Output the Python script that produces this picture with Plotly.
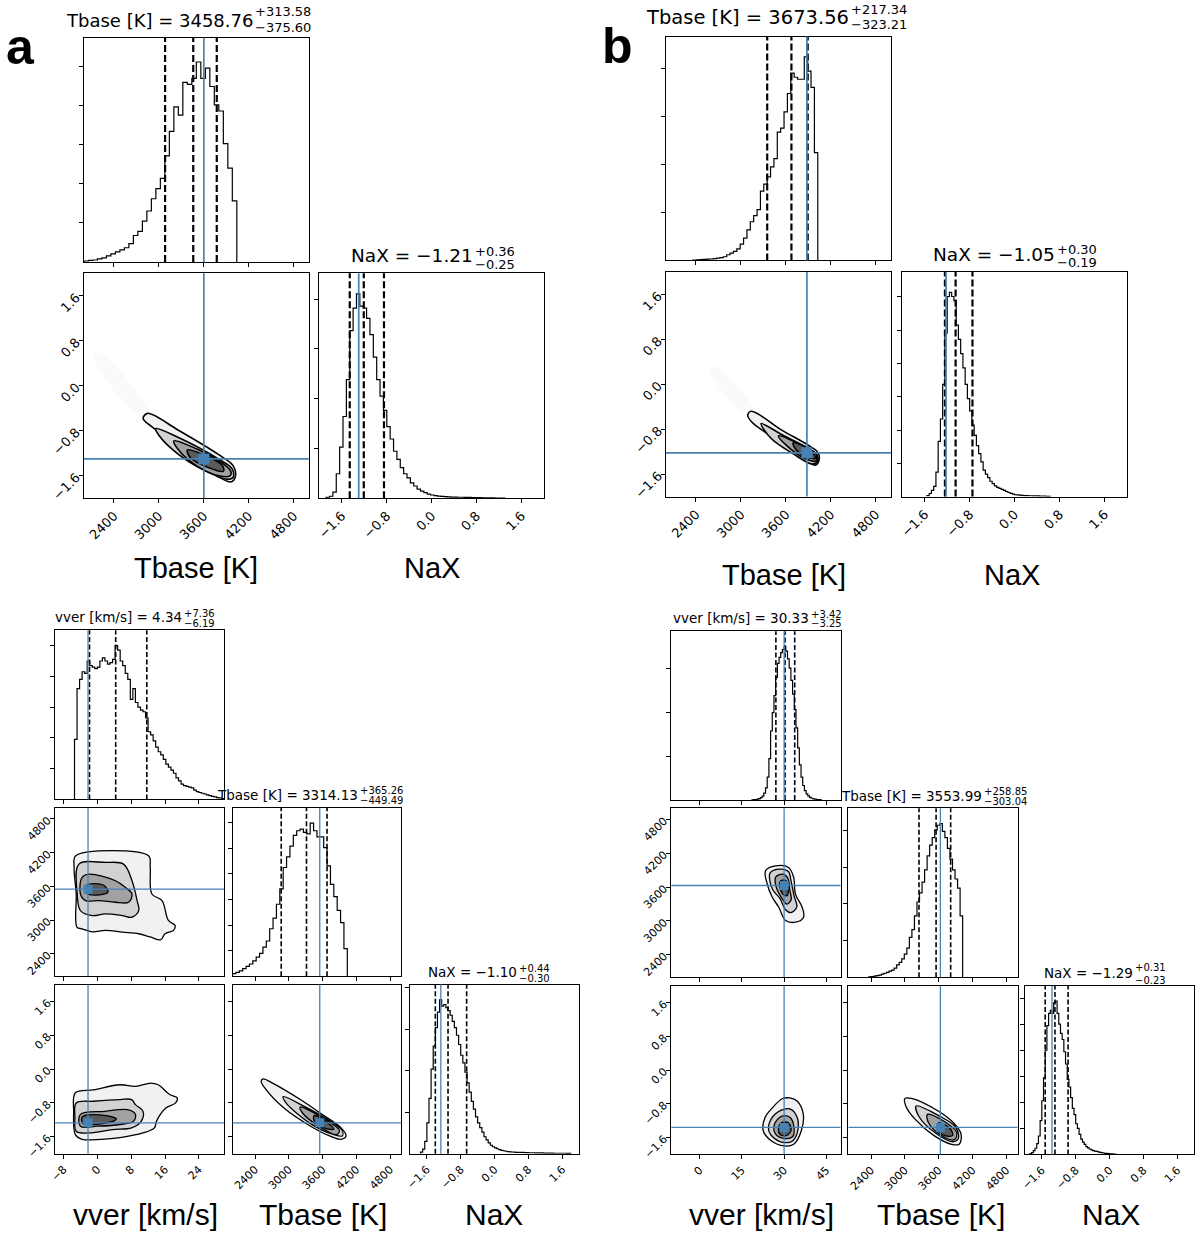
import plotly.graph_objects as go

# ---------------- values ----------------
TBASE_RANGE = [2000, 5000]
NAX_RANGE = [-2.0, 2.0]
VVER_RANGE_A = [-10, 30]
VVER_RANGE_B = [-10, 50]

TBASE_TICKS = [2400, 3000, 3600, 4200, 4800]
NAX_TICKS = [-1.6, -0.8, 0.0, 0.8, 1.6]
NAX_TICKTEXT = ["\u22121.6", "\u22120.8", "0.0", "0.8", "1.6"]
VVER_TICKS_A = [-8, 0, 8, 16, 24]
VVER_TICKTEXT_A = ["\u22128", "0", "8", "16", "24"]
VVER_TICKS_B = [0, 15, 30, 45]

# marginal histograms: first bin edge, bin width, heights (peak = 1)
top_a_tbase_start, top_a_tbase_width = 2000, 60
top_a_tbase_h = [0.005, 0.008, 0.01, 0.015, 0.02, 0.03, 0.04, 0.05, 0.06, 0.07, 0.09, 0.13, 0.15, 0.20,
                 0.25, 0.31, 0.36, 0.41, 0.52, 0.64, 0.76, 0.72, 0.88, 0.87, 0.90, 0.98, 0.90, 0.95,
                 0.86, 0.77, 0.74, 0.58, 0.46, 0.30]
top_a_nax_start, top_a_nax_width = -1.88, 0.06
top_a_nax_h = [0.005, 0.01, 0.03, 0.12, 0.25, 0.40, 0.58, 0.82, 0.93, 1.00, 0.94, 0.93, 0.88, 0.80,
               0.69, 0.58, 0.50, 0.43, 0.35, 0.29, 0.23, 0.19, 0.15, 0.12, 0.10, 0.075, 0.06, 0.045,
               0.035, 0.028, 0.02, 0.016, 0.013, 0.011, 0.009, 0.008, 0.007, 0.006, 0.006, 0.005,
               0.005, 0.004, 0.004, 0.003, 0.003, 0.003, 0.002, 0.002, 0.002, 0.002, 0.001, 0.001, 0.001]
top_b_tbase_start, top_b_tbase_width = 2360, 45
top_b_tbase_h = [0.002, 0.003, 0.004, 0.005, 0.006, 0.007, 0.009, 0.011, 0.014, 0.018, 0.028, 0.036,
                 0.044, 0.057, 0.08, 0.11, 0.15, 0.19, 0.22, 0.25, 0.34, 0.375, 0.41, 0.46, 0.50, 0.63,
                 0.65, 0.73, 0.82, 0.92, 0.90, 0.89, 0.89, 1.00, 0.93, 0.85, 0.53]
top_b_nax_start, top_b_nax_width = -1.56, 0.04
top_b_nax_h = [0.005, 0.015, 0.03, 0.05, 0.12, 0.27, 0.38, 0.55, 0.80, 0.98, 1.00, 0.98, 0.96, 0.84,
               0.77, 0.70, 0.63, 0.55, 0.48, 0.42, 0.35, 0.30, 0.25, 0.21, 0.17, 0.13, 0.11, 0.093,
               0.075, 0.063, 0.052, 0.045, 0.040, 0.035, 0.030, 0.025, 0.020, 0.016, 0.012, 0.009,
               0.008, 0.007, 0.006, 0.005, 0.005, 0.004, 0.004, 0.003, 0.003, 0.003, 0.002, 0.002,
               0.002, 0.001, 0.001]
bot_a_vver_start, bot_a_vver_width = -5.4, 0.6
bot_a_vver_h = [0.39, 0.72, 0.78, 0.83, 0.82, 0.90, 0.87, 0.86, 0.85, 0.86, 0.90, 0.92, 0.90, 0.88,
                0.89, 0.91, 1.00, 0.97, 0.90, 0.87, 0.82, 0.78, 0.65, 0.72, 0.63, 0.60, 0.58, 0.57,
                0.53, 0.44, 0.42, 0.38, 0.34, 0.31, 0.29, 0.26, 0.23, 0.21, 0.19, 0.17, 0.14, 0.12,
                0.10, 0.09, 0.085, 0.08, 0.075, 0.06, 0.05, 0.045, 0.04, 0.035, 0.03, 0.025, 0.02,
                0.017, 0.012, 0.009, 0.006]
bot_a_tbase_start, bot_a_tbase_width = 2000, 60
bot_a_tbase_h = [0.017, 0.025, 0.035, 0.05, 0.065, 0.08, 0.10, 0.125, 0.15, 0.19, 0.23, 0.31, 0.38,
                 0.47, 0.57, 0.71, 0.78, 0.85, 0.92, 0.95, 0.96, 0.94, 0.93, 1.00, 0.95, 0.91, 0.91,
                 0.84, 0.72, 0.60, 0.52, 0.43, 0.35, 0.18]
bot_a_nax_start, bot_a_nax_width = -1.75, 0.05
bot_a_nax_h = [0.01, 0.03, 0.08, 0.20, 0.36, 0.55, 0.70, 0.82, 0.92, 1.00, 0.96, 0.97, 0.95, 0.93,
               0.90, 0.86, 0.82, 0.77, 0.71, 0.64, 0.59, 0.53, 0.46, 0.40, 0.34, 0.29, 0.24, 0.20,
               0.17, 0.14, 0.11, 0.09, 0.07, 0.055, 0.045, 0.038, 0.032, 0.027, 0.022, 0.019, 0.016,
               0.014, 0.012, 0.011, 0.010, 0.009, 0.009, 0.008, 0.008, 0.007, 0.007, 0.006, 0.006,
               0.006, 0.005, 0.005, 0.005, 0.005, 0.004, 0.004, 0.004, 0.004, 0.004, 0.003, 0.003,
               0.003, 0.003, 0.003, 0.003, 0.002, 0.002]
bot_b_vver_start, bot_b_vver_width = 18.6, 0.6
bot_b_vver_h = [0.002, 0.003, 0.004, 0.006, 0.010, 0.016, 0.026, 0.045, 0.08, 0.15, 0.27, 0.45, 0.57,
                0.68, 0.80, 0.89, 0.93, 0.96, 0.98, 1.00, 0.97, 0.92, 0.86, 0.78, 0.69, 0.59, 0.47,
                0.34, 0.23, 0.15, 0.095, 0.062, 0.04, 0.027, 0.018, 0.012, 0.008, 0.006, 0.004,
                0.003, 0.002]
bot_b_tbase_start, bot_b_tbase_width = 2360, 45
bot_b_tbase_h = [0.002, 0.004, 0.007, 0.010, 0.014, 0.020, 0.026, 0.032, 0.040, 0.046, 0.060, 0.080,
                 0.097, 0.12, 0.15, 0.19, 0.26, 0.31, 0.40, 0.49, 0.55, 0.62, 0.70, 0.79, 0.86, 0.91,
                 0.96, 0.99, 1.00, 0.95, 0.91, 0.84, 0.77, 0.70, 0.64, 0.58, 0.40]
bot_b_nax_start, bot_b_nax_width = -1.88, 0.04
bot_b_nax_h = [0.005, 0.012, 0.025, 0.04, 0.07, 0.12, 0.22, 0.35, 0.50, 0.68, 0.84, 0.92, 0.94, 0.92,
               0.99, 1.00, 0.92, 0.85, 0.79, 0.75, 0.67, 0.59, 0.49, 0.44, 0.37, 0.30, 0.26, 0.20,
               0.17, 0.13, 0.10, 0.08, 0.065, 0.05, 0.042, 0.035, 0.03, 0.025, 0.021, 0.019, 0.016,
               0.013, 0.011, 0.009, 0.007, 0.006, 0.005, 0.004, 0.003, 0.002, 0.001]

# title values: median, +err, -err
top_a_tbase_q = (3458.76, 313.58, 375.60)
top_a_nax_q = (-1.21, 0.36, 0.25)
top_b_tbase_q = (3673.56, 217.34, 323.21)
top_b_nax_q = (-1.05, 0.30, 0.19)
bot_a_vver_q = (4.34, 7.36, 6.19)
bot_a_tbase_q = (3314.13, 365.26, 449.49)
bot_a_nax_q = (-1.10, 0.44, 0.30)
bot_b_vver_q = (30.33, 3.42, 3.25)
bot_b_tbase_q = (3553.99, 258.85, 303.04)
bot_b_nax_q = (-1.29, 0.31, 0.23)

# true values (blue lines)
top_a_truth = {"tbase": 3600, "nax": -1.30}
top_b_truth = {"tbase": 3880, "nax": -1.22}
bot_a_truth = {"vver": -2.2, "tbase": 3550, "nax": -1.27}
bot_b_truth = {"vver": 30.0, "tbase": 3630, "nax": -1.36}

# 2-D contour outlines (outer -> inner)
top_a_tn_x = [[2790, 2850, 3261, 3793, 3990, 4020, 3960, 3615, 3261, 2900],
              [2960, 3261, 3793, 3980, 3990, 3900, 3600, 3261, 3000],
              [3200, 3500, 3850, 3960, 3950, 3800, 3500, 3250],
              [3380, 3650, 3850, 3860, 3650, 3420]]
top_a_tn_y = [[-0.58, -0.49, -0.79, -1.22, -1.42, -1.62, -1.71, -1.46, -1.08, -0.72],
              [-0.76, -0.92, -1.30, -1.48, -1.63, -1.66, -1.50, -1.22, -0.88],
              [-0.98, -1.12, -1.38, -1.52, -1.60, -1.60, -1.42, -1.12],
              [-1.14, -1.26, -1.42, -1.52, -1.45, -1.28]]
top_a_tn_smear_x = [2150, 2250, 2850, 2850, 2750, 2150]
top_a_tn_smear_y = [0.55, 0.55, -0.40, -0.55, -0.55, 0.40]

top_b_tn_x = [[3090, 3140, 3549, 3903, 4030, 4040, 3990, 3858, 3549, 3151],
              [3270, 3550, 3900, 4010, 4020, 3950, 3700, 3400],
              [3500, 3800, 4000, 4000, 3850, 3600],
              [3700, 3950, 3990, 3850, 3720]]
top_b_tn_y = [[-0.55, -0.48, -0.82, -1.09, -1.22, -1.36, -1.44, -1.33, -1.05, -0.68],
              [-0.70, -0.90, -1.14, -1.25, -1.37, -1.42, -1.24, -0.96],
              [-0.92, -1.08, -1.24, -1.36, -1.32, -1.08],
              [-1.04, -1.20, -1.32, -1.28, -1.14]]
top_b_tn_smear_x = [2600, 2700, 3150, 3150, 3050, 2600]
top_b_tn_smear_y = [0.30, 0.30, -0.40, -0.55, -0.55, 0.18]

bot_a_vt_x = [[-5.1, 12.1, 12.5, 12.9, 15.3, 16.8, 18.4, 18.0, 16.0, 15.0, 12.5, 9.8, 5.9, 1.9, -1.2, -3.6, -4.8, -5.0, -5.5],
              [-4.35, 1.9, 6.2, 8.2, 9.4, 9.8, 8.2, 5.9, 1.9, -1.2, -4.0, -4.75],
              [-3.6, -2.0, 4.3, 6.6, 8.2, 7.4, 4.3, 0.4, -2.8, -4.0],
              [-2.5, 1.5, 2.5, 0.5, -2.5]]
bot_a_vt_y = [[4144, 4144, 3940, 3465, 3347, 2993, 2904, 2816, 2757, 2650, 2700, 2757, 2786, 2816, 2790, 2845, 2870, 3465, 3937],
              [3996, 4026, 3996, 3701, 3347, 3170, 3052, 3081, 3111, 3081, 3170, 3465],
              [3760, 3819, 3701, 3583, 3465, 3318, 3318, 3347, 3347, 3465],
              [3620, 3620, 3500, 3450, 3480]]
bot_a_vn_x = [[-5.2, -0.9, 5.4, 9.0, 12.6, 14.4, 17.1, 18.9, 18.5, 16.2, 14.9, 14.0, 13.5, 10.8, 5.4, 0.9, -3.6, -5.2, -5.6],
              [-5.0, -0.9, 5.4, 8.1, 9.0, 10.8, 10.4, 8.1, 3.6, -1.8, -5.0, -5.3],
              [-4.0, 1.8, 7.2, 9.0, 8.6, 5.4, 0.0, -4.0],
              [-3.5, 2.0, 4.5, 2.0, -3.5]]
bot_a_vn_y = [[-0.56, -0.49, -0.37, -0.41, -0.33, -0.37, -0.60, -0.68, -0.80, -0.92, -1.07, -1.23, -1.39, -1.51, -1.62, -1.66, -1.66, -1.55, -1.00],
              [-0.80, -0.76, -0.72, -0.72, -0.84, -1.00, -1.23, -1.39, -1.43, -1.51, -1.47, -1.15],
              [-1.07, -1.00, -0.96, -1.07, -1.23, -1.31, -1.35, -1.35],
              [-1.12, -1.10, -1.18, -1.28, -1.28]]
bot_a_tn_x = [[2542, 2711, 3253, 3591, 3930, 4018, 3930, 3727, 3388, 2914, 2575, 2508],
              [2900, 3300, 3700, 3950, 3950, 3800, 3400, 2950],
              [3200, 3600, 3900, 3850, 3500, 3250],
              [3450, 3700, 3800, 3650, 3450]]
bot_a_tn_y = [[-0.23, -0.33, -0.76, -1.07, -1.39, -1.58, -1.66, -1.58, -1.35, -0.92, -0.45, -0.29],
              [-0.65, -0.90, -1.20, -1.45, -1.58, -1.55, -1.30, -0.80],
              [-0.90, -1.15, -1.45, -1.55, -1.32, -1.05],
              [-1.10, -1.28, -1.42, -1.40, -1.22]]

bot_b_vt_x = [[23.4, 27.0, 31.6, 33.4, 34.0, 36.4, 36.9, 34.0, 30.5, 28.1, 25.8, 24.0],
              [25.0, 28.0, 31.5, 32.5, 33.5, 34.5, 32.5, 30.5, 28.5, 26.0, 25.0],
              [27.0, 29.5, 31.3, 32.0, 32.5, 31.0, 29.0, 27.2],
              [28.5, 30.5, 31.5, 31.0, 29.5, 28.5]]
bot_b_vt_y = [[3892, 3980, 3951, 3774, 3479, 3244, 3067, 2978, 3008, 3244, 3420, 3656],
              [3850, 3920, 3880, 3700, 3450, 3250, 3150, 3200, 3400, 3550, 3700],
              [3780, 3830, 3760, 3550, 3380, 3300, 3420, 3600],
              [3700, 3720, 3550, 3450, 3480, 3600]]
bot_b_vn_x = [[29.3, 32.0, 34.7, 36.8, 36.1, 33.4, 30.0, 25.3, 22.6, 23.2, 25.9],
              [29.0, 32.0, 34.5, 34.8, 33.0, 30.0, 26.5, 24.5, 25.5],
              [29.0, 32.0, 33.5, 33.0, 30.0, 27.0, 26.5],
              [29.0, 31.5, 32.5, 31.0, 28.5, 28.0]]
bot_b_vn_y = [[-0.68, -0.66, -0.74, -1.05, -1.44, -1.76, -1.80, -1.67, -1.44, -1.13, -0.89],
              [-0.95, -0.92, -1.10, -1.45, -1.68, -1.72, -1.62, -1.42, -1.15],
              [-1.10, -1.12, -1.35, -1.58, -1.62, -1.52, -1.30],
              [-1.25, -1.25, -1.42, -1.55, -1.52, -1.38]]
bot_b_tn_x = [[3002, 3117, 3591, 3862, 3997, 3964, 3828, 3524, 3185, 3016],
              [3200, 3600, 3900, 3950, 3850, 3550, 3250],
              [3400, 3700, 3920, 3880, 3650, 3420],
              [3600, 3800, 3850, 3700, 3580]]
bot_b_tn_y = [[-0.67, -0.67, -0.97, -1.25, -1.52, -1.76, -1.76, -1.56, -1.17, -0.85],
              [-0.85, -1.08, -1.35, -1.62, -1.70, -1.50, -1.10],
              [-1.05, -1.22, -1.48, -1.65, -1.55, -1.25],
              [-1.25, -1.38, -1.55, -1.55, -1.40]]

# ---------------- drawing ----------------
W, H = 1200, 1239
STEEL = "#4682b4"
FILLS = ["#f1f1f1", "#d2d2d2", "#a2a2a2", "#5a5a5a"]

fig = go.Figure()
shapes = []
annots = []
n_axes = [0]


def make_axes(box, xr, yr, xticks, yticks, xtext=None, ytext=None, xlab=False, ylab=False, fs=13):
    n_axes[0] += 1
    sfx = "" if n_axes[0] == 1 else str(n_axes[0])
    x0, y0, x1, y1 = box
    base = dict(showline=True, mirror=True, linecolor="black", linewidth=1, ticks="outside",
                ticklen=4, tickwidth=1, tickcolor="black", showgrid=False, zeroline=False,
                tickangle=-45, tickfont=dict(family="DejaVu Sans", size=fs, color="black"))
    fig.update_layout(**{
        "xaxis" + sfx: dict(base, domain=[x0 / W, x1 / W], anchor="y" + sfx, range=xr,
                            tickmode="array", tickvals=xticks, ticktext=xtext, showticklabels=xlab),
        "yaxis" + sfx: dict(base, domain=[1 - y1 / H, 1 - y0 / H], anchor="x" + sfx, range=yr,
                            tickmode="array", tickvals=yticks, ticktext=ytext, showticklabels=ylab),
    })
    return "x" + sfx, "y" + sfx


def vline(xa, ya, x, color, width, dash="solid"):
    shapes.append(dict(type="line", xref=xa, yref=ya + " domain", x0=x, x1=x, y0=0, y1=1,
                       line=dict(color=color, width=width, dash=dash)))


def hline(xa, ya, y, color, width):
    shapes.append(dict(type="line", xref=xa + " domain", yref=ya, x0=0, x1=1, y0=y, y1=y,
                       line=dict(color=color, width=width)))


def hist_panel(box, xr, xticks, start, width, heights, q, truth, ystep, top=True,
               xlab=False, xtext=None):
    fs = 13 if top else 11
    yt = [ystep * k for k in range(1, int(1.1 / ystep) + 1)]
    xa, ya = make_axes(box, xr, [0, 1.1], xticks, yt, xtext=xtext, xlab=xlab, fs=fs)
    edges = [start + width * i for i in range(len(heights) + 1)]
    fig.add_trace(go.Scatter(x=[edges[0]] + edges[:-1] + [edges[-1]], y=[0] + heights + [0],
                             mode="lines", line=dict(color="black", width=1.2, shape="hv"),
                             xaxis=xa, yaxis=ya, hoverinfo="skip", showlegend=False))
    med, plus, minus = q
    for v in (med - minus, med, med + plus):
        vline(xa, ya, v, "black", 2.2 if top else 1.6, "7px,3px" if top else "5px,2.5px")
    vline(xa, ya, truth, STEEL, 1.7 if top else 1.3)


def contour_panel(box, xr, yr, xticks, yticks, px, py, tx, ty, top=True, xtext=None, ytext=None,
                  xlab=False, ylab=False, smear=None):
    fs = 13 if top else 11
    xa, ya = make_axes(box, xr, yr, xticks, yticks, xtext=xtext, ytext=ytext,
                       xlab=xlab, ylab=ylab, fs=fs)
    if smear is not None:
        sx, sy = smear
        fig.add_trace(go.Scatter(x=sx + sx[:1], y=sy + sy[:1], mode="lines", fill="toself",
                                 fillcolor="rgba(0,0,0,0.02)",
                                 line=dict(width=0, shape="spline", color="rgba(0,0,0,0)"),
                                 xaxis=xa, yaxis=ya, hoverinfo="skip", showlegend=False))
    for cx, cy, col in zip(px, py, FILLS):
        fig.add_trace(go.Scatter(x=cx + cx[:1], y=cy + cy[:1], mode="lines", fill="toself",
                                 fillcolor=col,
                                 line=dict(color="black", width=1.6 if top else 1.3,
                                           shape="spline", smoothing=1.0),
                                 xaxis=xa, yaxis=ya, hoverinfo="skip", showlegend=False))
    fig.add_trace(go.Scatter(x=[tx], y=[ty], mode="markers",
                             marker=dict(symbol="square", size=11 if top else 9, color=STEEL),
                             xaxis=xa, yaxis=ya, hoverinfo="skip", showlegend=False))
    vline(xa, ya, tx, STEEL, 1.7 if top else 1.3)
    hline(xa, ya, ty, STEEL, 1.7 if top else 1.3)


def title(split_x, ys, label, q, big, small):
    med, plus, minus = q
    y_main, y_sup, y_sub = ys
    main = f"{label} = {med:.2f}".replace("-", "\u2212")
    font_big = dict(family="DejaVu Sans", size=big, color="black")
    font_small = dict(family="DejaVu Sans", size=small, color="black")
    annots.append(dict(x=split_x / W, y=1 - y_main / H, xref="paper", yref="paper", xanchor="right",
                       yanchor="middle", text=main, showarrow=False, font=font_big, borderpad=0))
    annots.append(dict(x=split_x / W, y=1 - y_sup / H, xref="paper", yref="paper", xanchor="left",
                       yanchor="middle", text=f"+{plus:.2f}", showarrow=False, font=font_small,
                       borderpad=0))
    annots.append(dict(x=split_x / W, y=1 - y_sub / H, xref="paper", yref="paper", xanchor="left",
                       yanchor="middle", text=f"\u2212{minus:.2f}", showarrow=False, font=font_small,
                       borderpad=0))


def label(x, y, text, size=29, bold=False):
    annots.append(dict(x=x / W, y=1 - y / H, xref="paper", yref="paper", xanchor="center",
                       yanchor="middle", text=f"<b>{text}</b>" if bold else text, showarrow=False,
                       font=dict(family="Liberation Sans", size=size, color="black")))


def box(cols, rows, i, j):
    return (cols[i][0], rows[j][0], cols[i][1], rows[j][1])


# ---- top a ----
hist_panel((78.3, 37.7, 304.3, 263.3), TBASE_RANGE, TBASE_TICKS, top_a_tbase_start,
           top_a_tbase_width, top_a_tbase_h, top_a_tbase_q, top_a_truth["tbase"], 0.192)
contour_panel((78.3, 274.7, 304.3, 500.7), TBASE_RANGE, NAX_RANGE, TBASE_TICKS, NAX_TICKS,
              top_a_tn_x, top_a_tn_y, top_a_truth["tbase"], top_a_truth["nax"],
              ytext=NAX_TICKTEXT, xlab=True, ylab=True, smear=(top_a_tn_smear_x, top_a_tn_smear_y))
hist_panel((315.0, 274.7, 540.7, 500.7), NAX_RANGE, NAX_TICKS, top_a_nax_start, top_a_nax_width,
           top_a_nax_h, top_a_nax_q, top_a_truth["nax"], 0.2435, xlab=True, xtext=NAX_TICKTEXT)

# ---- top b ----
hist_panel((663.3, 36.7, 889.3, 261.7), TBASE_RANGE, TBASE_TICKS, top_b_tbase_start,
           top_b_tbase_width, top_b_tbase_h, top_b_tbase_q, top_b_truth["tbase"], 0.236)
contour_panel((663.3, 273.3, 889.3, 499.0), TBASE_RANGE, NAX_RANGE, TBASE_TICKS, NAX_TICKS,
              top_b_tn_x, top_b_tn_y, top_b_truth["tbase"], top_b_truth["nax"],
              ytext=NAX_TICKTEXT, xlab=True, ylab=True, smear=(top_b_tn_smear_x, top_b_tn_smear_y))
hist_panel((900.7, 273.3, 1126.7, 499.0), NAX_RANGE, NAX_TICKS, top_b_nax_start, top_b_nax_width,
           top_b_nax_h, top_b_nax_q, top_b_truth["nax"], 0.163, xlab=True, xtext=NAX_TICKTEXT)

# ---- bottom a ----
ca = [(49.3, 219.3), (227.7, 397.3), (406.0, 576.0)]
ra = [(633.3, 803.3), (811.7, 981.0), (989.3, 1159.3)]
hist_panel(box(ca, ra, 0, 0), VVER_RANGE_A, VVER_TICKS_A, bot_a_vver_start, bot_a_vver_width,
           bot_a_vver_h, bot_a_vver_q, bot_a_truth["vver"], 0.2, top=False)
contour_panel(box(ca, ra, 0, 1), VVER_RANGE_A, TBASE_RANGE, VVER_TICKS_A, TBASE_TICKS,
              bot_a_vt_x, bot_a_vt_y, bot_a_truth["vver"], bot_a_truth["tbase"], top=False,
              ylab=True)
hist_panel(box(ca, ra, 1, 1), TBASE_RANGE, TBASE_TICKS, bot_a_tbase_start, bot_a_tbase_width,
           bot_a_tbase_h, bot_a_tbase_q, bot_a_truth["tbase"], 0.167, top=False)
contour_panel(box(ca, ra, 0, 2), VVER_RANGE_A, NAX_RANGE, VVER_TICKS_A, NAX_TICKS,
              bot_a_vn_x, bot_a_vn_y, bot_a_truth["vver"], bot_a_truth["nax"], top=False,
              xtext=VVER_TICKTEXT_A, ytext=NAX_TICKTEXT, xlab=True, ylab=True)
contour_panel(box(ca, ra, 1, 2), TBASE_RANGE, NAX_RANGE, TBASE_TICKS, NAX_TICKS,
              bot_a_tn_x, bot_a_tn_y, bot_a_truth["tbase"], bot_a_truth["nax"], top=False,
              xlab=True)
hist_panel(box(ca, ra, 2, 2), NAX_RANGE, NAX_TICKS, bot_a_nax_start, bot_a_nax_width,
           bot_a_nax_h, bot_a_nax_q, bot_a_truth["nax"], 0.27, top=False, xlab=True,
           xtext=NAX_TICKTEXT)

# ---- bottom b ----
cb = [(668.7, 838.7), (846.7, 1016.7), (1024.0, 1194.3)]
rb = [(634.3, 804.0), (812.3, 982.0), (990.7, 1160.0)]
hist_panel(box(cb, rb, 0, 0), VVER_RANGE_B, VVER_TICKS_B, bot_b_vver_start, bot_b_vver_width,
           bot_b_vver_h, bot_b_vver_q, bot_b_truth["vver"], 0.286, top=False)
contour_panel(box(cb, rb, 0, 1), VVER_RANGE_B, TBASE_RANGE, VVER_TICKS_B, TBASE_TICKS,
              bot_b_vt_x, bot_b_vt_y, bot_b_truth["vver"], bot_b_truth["tbase"], top=False,
              ylab=True)
hist_panel(box(cb, rb, 1, 1), TBASE_RANGE, TBASE_TICKS, bot_b_tbase_start, bot_b_tbase_width,
           bot_b_tbase_h, bot_b_tbase_q, bot_b_truth["tbase"], 0.239, top=False)
contour_panel(box(cb, rb, 0, 2), VVER_RANGE_B, NAX_RANGE, VVER_TICKS_B, NAX_TICKS,
              bot_b_vn_x, bot_b_vn_y, bot_b_truth["vver"], bot_b_truth["nax"], top=False,
              ytext=NAX_TICKTEXT, xlab=True, ylab=True)
contour_panel(box(cb, rb, 1, 2), TBASE_RANGE, NAX_RANGE, TBASE_TICKS, NAX_TICKS,
              bot_b_tn_x, bot_b_tn_y, bot_b_truth["tbase"], bot_b_truth["nax"], top=False,
              xlab=True)
hist_panel(box(cb, rb, 2, 2), NAX_RANGE, NAX_TICKS, bot_b_nax_start, bot_b_nax_width,
           bot_b_nax_h, bot_b_nax_q, bot_b_truth["nax"], 0.17, top=False, xlab=True,
           xtext=NAX_TICKTEXT)

# ---- titles ----
title(249.3, (21.0, 12.0, 27.5), "Tbase [K]", top_a_tbase_q, 18, 13)
title(470.0, (257.0, 252.5, 265.5), "NaX", top_a_nax_q, 18.5, 13)
title(848.5, (17.5, 10.0, 24.5), "Tbase [K]", top_b_tbase_q, 19.5, 13)
title(1055.0, (256.0, 251.0, 264.0), "NaX", top_b_nax_q, 18.5, 13)
title(178.3, (620.0, 616.5, 626.5), "vver [km/s]", bot_a_vver_q, 13.5, 10)
title(354.3, (799.0, 794.5, 804.5), "Tbase [K]", bot_a_tbase_q, 13.5, 10)
title(515.0, (976.5, 973.0, 983.0), "NaX", bot_a_nax_q, 13.5, 10)
title(808.3, (621.5, 617.5, 626.5), "vver [km/s]", bot_b_vver_q, 13.5, 10)
title(981.7, (800.0, 795.5, 805.0), "Tbase [K]", bot_b_tbase_q, 13.5, 10)
title(1133.3, (978.0, 972.5, 985.0), "NaX", bot_b_nax_q, 13.5, 10)

# ---- axis labels and panel letters ----
label(191.3, 571, "Tbase [K]")
label(428.0, 571, "NaX")
label(782.0, 578, "Tbase [K]")
label(1011.0, 578, "NaX")
label(140.0, 1220, "vver [km/s]", size=30)
label(319.0, 1220, "Tbase [K]", size=30)
label(490.0, 1220, "NaX", size=30)
label(759.0, 1220, "vver [km/s]", size=30)
label(940.0, 1220, "Tbase [K]", size=30)
label(1111.0, 1220, "NaX", size=30)
label(14.5, 47, "a", size=50, bold=True)
label(615.0, 46, "b", size=50, bold=True)

fig.update_layout(
    width=W, height=H, autosize=False,
    margin=dict(l=0, r=0, t=0, b=0),
    paper_bgcolor="white", plot_bgcolor="white",
    showlegend=False,
    shapes=shapes, annotations=annots,
)

# the page's default 8px body margin would shift the fixed-size figure
fig.write_html("out.html", config={"displayModeBar": False},
               post_script="document.body.style.margin='0px';")
